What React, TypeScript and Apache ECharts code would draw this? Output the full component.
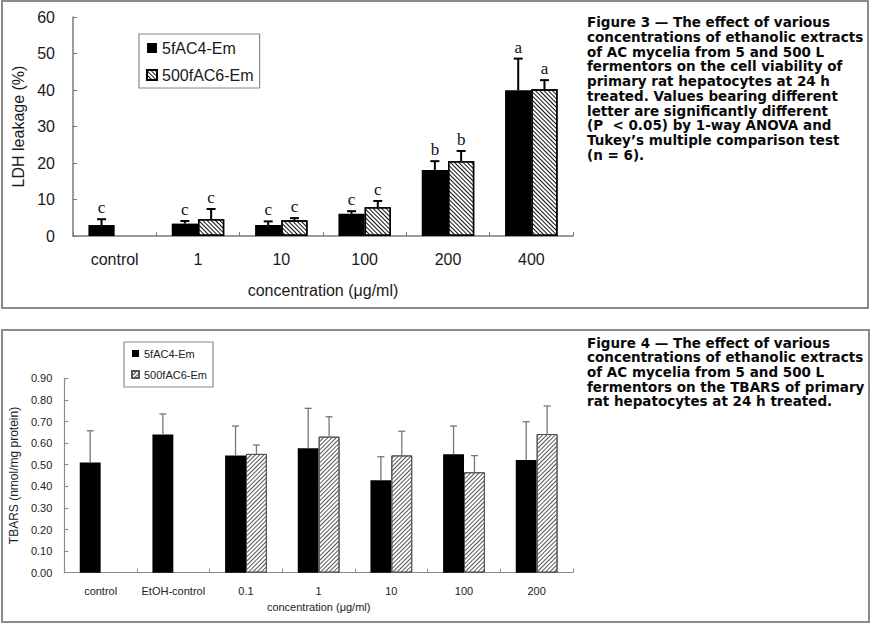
import React, { useEffect, useRef } from "react";
import * as echarts from "echarts";

// ---- Figure 3: LDH leakage ----
const ldhCategories = ["control", "1", "10", "100", "200", "400"];
const ldh5fAC4 = [3.0, 3.4, 3.0, 6.1, 18.1, 39.9];
const ldh5fAC4Upper = [4.6, 4.1, 4.0, 6.8, 20.5, 48.6];
const ldh500fAC6 = [null, 4.6, 4.3, 7.9, 20.5, 40.2];
const ldh500fAC6Upper = [null, 7.4, 4.9, 9.6, 23.3, 42.7];
const ldh5fAC4Letters = ["c", "c", "c", "c", "b", "a"];
const ldh500fAC6Letters = [null, "c", "c", "c", "b", "a"];

// ---- Figure 4: TBARS ----
const tbarsCategories = ["control", "EtOH-control", "0.1", "1", "10", "100", "200"];
const tbars5fAC4 = [0.51, 0.64, 0.543, 0.576, 0.428, 0.548, 0.522];
const tbars5fAC4Upper = [0.657, 0.735, 0.679, 0.761, 0.537, 0.679, 0.699];
const tbars500fAC6 = [null, null, 0.55, 0.63, 0.543, 0.465, 0.642];
const tbars500fAC6Upper = [null, null, 0.591, 0.722, 0.655, 0.542, 0.772];

const seriesNames = ["5fAC4-Em", "500fAC6-Em"];

const fig3Caption = [
  "Figure 3 \u2014 The effect of various",
  "concentrations of ethanolic extracts",
  "of AC mycelia from 5 and 500 L",
  "fermentors on the cell viability of",
  "primary rat hepatocytes at 24 h",
  "treated. Values bearing different",
  "letter are significantly different",
  "(P  < 0.05) by 1-way ANOVA and",
  "Tukey\u2019s multiple comparison test",
  "(n = 6).",
];

const fig4Caption = [
  "Figure 4 \u2014 The effect of various",
  "concentrations of ethanolic extracts",
  "of AC mycelia from 5 and 500 L",
  "fermentors on the TBARS of primary",
  "rat hepatocytes at 24 h treated.",
];

const SANS = "'Liberation Sans', Arial, sans-serif";
const CAPTION_FONT = "'DejaVu Sans', sans-serif";

type ErrOpts = {
  side: number; // -1 left bar, +1 right bar
  catGap: number; // barCategoryGap as a fraction
  color: string;
  width: number;
  cap: number;
  letters?: (string | null)[];
  letterOffset?: number;
};

function errorSeries(means: (number | null)[], uppers: (number | null)[], o: ErrOpts) {
  const data: number[][] = [];
  means.forEach((m, i) => {
    const u = uppers[i];
    if (m != null && u != null) data.push([i, m, u]);
  });
  return {
    type: "custom",
    silent: true,
    z: 5,
    data,
    renderItem: (_params: any, api: any) => {
      const i = api.value(0);
      const base = api.coord([i, api.value(1)]);
      const top = api.coord([i, api.value(2)]);
      const band = api.size([1, 0])[0];
      const bw = (band * (1 - o.catGap)) / 2;
      const x = base[0] + (o.side * bw) / 2;
      const ls = { stroke: o.color, lineWidth: o.width };
      const children: any[] = [
        { type: "line", shape: { x1: x, y1: base[1], x2: x, y2: top[1] }, style: ls },
        { type: "line", shape: { x1: x - o.cap / 2, y1: top[1], x2: x + o.cap / 2, y2: top[1] }, style: ls },
      ];
      const letter = o.letters ? o.letters[i] : null;
      if (letter) {
        children.push({
          type: "text",
          x,
          y: top[1] - (o.letterOffset ?? 2),
          style: {
            text: letter,
            align: "center",
            verticalAlign: "bottom",
            fill: "#111",
            font: "17px 'Liberation Serif', 'Times New Roman', serif",
          },
        });
      }
      return { type: "group", children };
    },
  };
}

function captionGraphic(lines: string[], x: number, y: number) {
  return {
    type: "text",
    left: x,
    top: y,
    style: {
      text: lines.join("\n"),
      fill: "#0a0a0a",
      font: `bold 13.5px ${CAPTION_FONT}`,
      lineHeight: 14.7,
    },
  };
}

function ldhOption(): any {
  const catGap = 0.37;
  return {
    animation: false,
    backgroundColor: "#fff",
    graphic: [
      {
        type: "rect",
        shape: { x: 2, y: 1, width: 866, height: 307 },
        style: { fill: "none", stroke: "#8a8a8a", lineWidth: 2 },
      },
      captionGraphic(fig3Caption, 587, 15),
    ],
    legend: {
      orient: "vertical",
      left: 139,
      top: 34,
      data: seriesNames,
      icon: "rect",
      itemWidth: 10,
      itemHeight: 10,
      itemGap: 11,
      padding: [6, 6, 5, 7],
      borderColor: "#8a8a8a",
      borderWidth: 1.2,
      selectedMode: false,
      textStyle: { fontSize: 16, color: "#1a1a1a", fontFamily: SANS },
    },
    grid: { left: 73, right: 303, top: 17, bottom: 79 },
    xAxis: {
      type: "category",
      data: ldhCategories,
      axisLine: { lineStyle: { color: "#7a7a7a", width: 1.5 } },
      axisTick: { show: true, inside: true, length: 4, lineStyle: { color: "#7a7a7a" } },
      axisLabel: { interval: 0, fontSize: 16, color: "#1a1a1a", margin: 15, fontFamily: SANS },
      name: "concentration (\u03bcg/ml)",
      nameLocation: "middle",
      nameGap: 46,
      nameTextStyle: { fontSize: 16, color: "#1a1a1a", fontFamily: SANS },
    },
    yAxis: {
      type: "value",
      min: 0,
      max: 60,
      interval: 10,
      splitLine: { show: false },
      axisLine: { show: true, lineStyle: { color: "#7a7a7a", width: 1.5 } },
      axisTick: { show: true, inside: true, length: 4, lineStyle: { color: "#7a7a7a" } },
      axisLabel: { fontSize: 16, color: "#1a1a1a", margin: 18, fontFamily: SANS },
      name: "LDH leakage (%)",
      nameLocation: "middle",
      nameGap: 47,
      nameTextStyle: { fontSize: 16, color: "#1a1a1a", fontFamily: SANS },
    },
    series: [
      {
        name: seriesNames[0],
        type: "bar",
        data: ldh5fAC4,
        barGap: "0%",
        barCategoryGap: `${catGap * 100}%`,
        itemStyle: { color: "#000" },
      },
      {
        name: seriesNames[1],
        type: "bar",
        data: ldh500fAC6,
        itemStyle: {
          color: "#fff",
          borderColor: "#000",
          borderWidth: 1.4,
          decal: {
            symbol: "rect",
            symbolSize: 1,
            color: "#111",
            dashArrayX: [1, 0],
            dashArrayY: [1, 2],
            rotation: Math.PI / 4,
          },
        },
      },
      errorSeries(ldh5fAC4, ldh5fAC4Upper, {
        side: -1, catGap, color: "#000", width: 2, cap: 9, letters: ldh5fAC4Letters, letterOffset: 3,
      }),
      errorSeries(ldh500fAC6, ldh500fAC6Upper, {
        side: 1, catGap, color: "#000", width: 2, cap: 9, letters: ldh500fAC6Letters, letterOffset: 3,
      }),
    ],
  };
}

function tbarsOption(): any {
  const catGap = 0.425;
  return {
    animation: false,
    backgroundColor: "#fff",
    graphic: [
      {
        type: "rect",
        shape: { x: 2, y: 15, width: 867, height: 292 },
        style: { fill: "none", stroke: "#8a8a8a", lineWidth: 2 },
      },
      captionGraphic(fig4Caption, 587, 20.3),
    ],
    legend: {
      orient: "vertical",
      left: 124,
      top: 27,
      data: seriesNames,
      icon: "rect",
      itemWidth: 7,
      itemHeight: 7,
      itemGap: 10,
      padding: [6, 6, 7, 7],
      borderColor: "#8a8a8a",
      borderWidth: 1.2,
      selectedMode: false,
      textStyle: { fontSize: 11, color: "#222", fontFamily: SANS },
    },
    grid: { left: 61, right: 303, top: 63.3, bottom: 52.3 },
    xAxis: {
      type: "category",
      data: tbarsCategories,
      axisLine: { lineStyle: { color: "#8a8a8a", width: 1.2 } },
      axisTick: { show: true, inside: true, length: 4, lineStyle: { color: "#8a8a8a" } },
      axisLabel: { interval: 0, fontSize: 11, color: "#222", margin: 13, fontFamily: SANS },
      name: "concentration (\u03bcg/ml)",
      nameLocation: "middle",
      nameGap: 27,
      nameTextStyle: { fontSize: 11, color: "#222", fontFamily: SANS },
    },
    yAxis: {
      type: "value",
      min: 0,
      max: 0.9,
      interval: 0.1,
      splitLine: { show: false },
      axisLine: { show: true, lineStyle: { color: "#8a8a8a", width: 1.2 } },
      axisTick: { show: true, inside: true, length: 4, lineStyle: { color: "#8a8a8a" } },
      axisLabel: {
        fontSize: 11,
        color: "#222",
        margin: 12,
        fontFamily: SANS,
        formatter: (v: number) => v.toFixed(2),
      },
      name: "TBARS (nmol/mg protein)",
      nameLocation: "middle",
      nameGap: 37,
      nameTextStyle: { fontSize: 12, color: "#222", fontFamily: SANS },
    },
    series: [
      {
        name: seriesNames[0],
        type: "bar",
        data: tbars5fAC4,
        barGap: "0%",
        barCategoryGap: `${catGap * 100}%`,
        itemStyle: { color: "#000" },
      },
      {
        name: seriesNames[1],
        type: "bar",
        data: tbars500fAC6,
        itemStyle: {
          color: "#fff",
          borderColor: "#555",
          borderWidth: 1,
          decal: {
            symbol: "rect",
            symbolSize: 1,
            color: "#555",
            dashArrayX: [1, 0],
            dashArrayY: [1, 2],
            rotation: -Math.PI / 4,
          },
        },
      },
      errorSeries(tbars5fAC4, tbars5fAC4Upper, { side: -1, catGap, color: "#777", width: 1.3, cap: 7 }),
      errorSeries(tbars500fAC6, tbars500fAC6Upper, { side: 1, catGap, color: "#777", width: 1.3, cap: 7 }),
    ],
  };
}

function Chart({ option, style }: { option: any; style: React.CSSProperties }) {
  const ref = useRef<HTMLDivElement>(null);
  useEffect(() => {
    if (!ref.current) return;
    const chart = echarts.init(ref.current, undefined, { renderer: "svg" });
    chart.setOption(option);
    return () => chart.dispose();
  }, [option]);
  return <div ref={ref} style={style} />;
}

const topOption = ldhOption();
const bottomOption = tbarsOption();

export default function App() {
  return (
    <div style={{ position: "fixed", left: 0, top: 0, width: 876, height: 625, background: "#fff" }}>
      <Chart option={topOption} style={{ position: "absolute", left: 0, top: 0, width: 876, height: 315 }} />
      <Chart option={bottomOption} style={{ position: "absolute", left: 0, top: 315, width: 876, height: 310 }} />
    </div>
  );
}
